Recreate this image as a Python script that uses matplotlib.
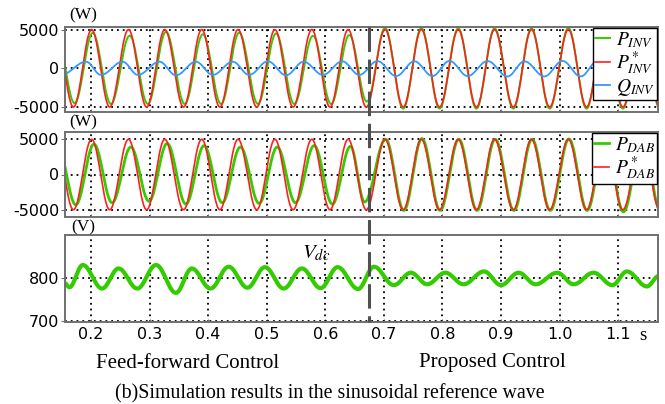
import numpy as np
import matplotlib
matplotlib.use('Agg')
import matplotlib.pyplot as plt
from matplotlib.lines import Line2D
from matplotlib.transforms import blended_transform_factory

plt.rcParams['axes.unicode_minus'] = False
plt.rcParams['mathtext.fontset'] = 'stix'

# extrema (time s, value)
p_ref_t = [0.139, 0.170, 0.201, 0.232, 0.264, 0.295, 0.326, 0.358, 0.389, 0.420,
           0.451, 0.483, 0.514, 0.545, 0.577, 0.608, 0.639, 0.670, 0.702, 0.733,
           0.764, 0.795, 0.827, 0.858, 0.889, 0.921, 0.952, 0.983, 1.015, 1.046,
           1.077, 1.108, 1.140, 1.171]
p_ref_v = [5000, -5000] * 17

p_inv_t = [0.141, 0.172, 0.203, 0.234, 0.266, 0.297, 0.328, 0.360, 0.391, 0.422,
           0.453, 0.485, 0.516, 0.547, 0.579, 0.610, 0.641, 0.671, 0.702, 0.733,
           0.764, 0.795, 0.827, 0.858, 0.889, 0.921, 0.952, 0.983, 1.015, 1.046,
           1.077, 1.108, 1.140, 1.171]
p_inv_v = [4300, -4500, 4570, -4600, 4220, -4600, 4700, -4600, 4400, -4600,
           4600, -4600, 4500, -4600, 4200, -4600, 4300, -4300, 5200, -5200,
           5200, -5200, 5150, -5200, 5150, -5200, 5150, -5200, 5200, -5200,
           5150, -5200, 5150, -5200]

q_inv_t = [0.150, 0.1915, 0.217, 0.254, 0.280, 0.317, 0.345, 0.379, 0.408, 0.442,
           0.470, 0.502, 0.533, 0.563, 0.596, 0.629, 0.658, 0.689, 0.721, 0.752,
           0.783, 0.812, 0.843, 0.877, 0.911, 0.940, 0.974, 1.005, 1.036, 1.065,
           1.098, 1.128, 1.160, 1.175]
q_inv_v = [-800, 850, -850, 850, -850, 850, -900, 850, -850, 850,
           -850, 900, -900, 850, -850, 900, -850, 930, -1000, 900,
           -1000, 950, -1000, 930, -1050, 900, -1050, 950, -1050, 950,
           -1000, 950, -1000, -300]

p_dab_t = [0.143, 0.174, 0.205, 0.236, 0.268, 0.299, 0.330, 0.362, 0.393, 0.424,
           0.455, 0.487, 0.518, 0.549, 0.581, 0.612, 0.643, 0.667, 0.703, 0.734,
           0.765, 0.796, 0.828, 0.859, 0.890, 0.922, 0.953, 0.984, 1.016, 1.047,
           1.078, 1.109, 1.141, 1.172]
p_dab_v = [4000, -4300, 4300, -4000, 3900, -3800, 4400, -4200, 4100, -4000,
           3900, -4100, 3900, -4000, 4100, -4200, 4000, -3900, 5000, -5100,
           5100, -5100, 5000, -5100, 5000, -5100, 5000, -5100, 5050, -5100,
           5000, -5300, 5000, -5100]

vdc_t = [0.155, 0.163, 0.186, 0.219, 0.247, 0.279, 0.311, 0.345, 0.372, 0.404,
         0.435, 0.467, 0.497, 0.529, 0.560, 0.592, 0.621, 0.656, 0.683, 0.717,
         0.746, 0.774, 0.805, 0.836, 0.871, 0.900, 0.930, 0.959, 0.996, 1.024,
         1.058, 1.090, 1.115, 1.149, 1.170]
vdc_v = [788, 778, 830, 775, 822, 775, 830, 765, 822, 775,
         826, 777, 825, 775, 822, 776, 825, 774, 826, 783,
         812, 785, 812, 785, 815, 783, 812, 785, 812, 785,
         812, 783, 815, 780, 805]

x_ticks = [0.2, 0.3, 0.4, 0.5, 0.6, 0.7, 0.8, 0.9, 1.0, 1.1]
t_switch = 0.675

GREEN = '#33cc00'
RED = '#ff1f1f'
BLUE = '#3399ff'


def wave(times, values, n=30):
    # smooth half-cosine pieces between the read extrema
    tt, vv = [], []
    for i in range(len(times) - 1):
        s = np.linspace(0, 1, n, endpoint=False)
        tt.append(times[i] + (times[i + 1] - times[i]) * s)
        vv.append(values[i] + (values[i + 1] - values[i]) * (1 - np.cos(np.pi * s)) / 2)
    tt.append([times[-1]])
    vv.append([values[-1]])
    return np.concatenate(tt), np.concatenate(vv)


fig = plt.figure(figsize=(6.65, 4.04), dpi=100)
L, W = 65 / 665, 593 / 665
ax1 = fig.add_axes([L, 1 - 112 / 404, W, 85 / 404])
ax2 = fig.add_axes([L, 1 - 217 / 404, W, 85 / 404])
ax3 = fig.add_axes([L, 1 - 322 / 404, W, 87 / 404])

ax1.plot(*wave(p_inv_t, p_inv_v), color=GREEN, lw=1.4, label=r'$P_{INV}$')
ax1.plot(*wave(p_ref_t, p_ref_v), color=RED, lw=1.2, label=r'$P^*_{INV}$')
ax1.plot(*wave(q_inv_t, q_inv_v), color=BLUE, lw=1.3, label=r'$Q_{INV}$')
ax1.set_ylim(-5640, 5330)
ax1.set_yticks([-5000, 0, 5000])

ax2.plot(*wave(p_dab_t, p_dab_v), color=GREEN, lw=2.0, label=r'$P_{DAB}$')
ax2.plot(*wave(p_ref_t, p_ref_v), color=RED, lw=1.2, label=r'$P^*_{DAB}$')
ax2.set_ylim(-6030, 6030)
ax2.set_yticks([-5000, 0, 5000])

ax3.plot(*wave(vdc_t, vdc_v), color=GREEN, lw=3.0)
ax3.set_ylim(697, 900)
ax3.set_yticks([700, 800])
ax3.text(0.561, 858, r'$V_{dc}$', fontsize=15, va='center', ha='left')

for ax in (ax1, ax2, ax3):
    ax.set_xlim(0.1556, 1.168)
    ax.set_xticks(x_ticks)
    ax.grid(True, color='black', linestyle=(0, (1, 2.2)), lw=1.3)
    for sp in ax.spines.values():
        sp.set_color('#707070')
        sp.set_linewidth(1.4)
    ax.tick_params(axis='y', direction='out', length=3, colors='#707070',
                   labelcolor='black', labelsize=11.5, pad=1)
    ax.tick_params(axis='x', direction='in', length=2, colors='#707070',
                   labelcolor='black', labelsize=11.5)
ax1.tick_params(axis='x', labelbottom=False)
ax2.tick_params(axis='x', labelbottom=False)

leg_kw = dict(loc='upper right', frameon=True, fancybox=False, framealpha=1,
              edgecolor='black', fontsize=14, handlelength=0.8, handletextpad=0.3,
              labelspacing=0.0, borderpad=0.1, borderaxespad=0.05)
lg1 = ax1.legend(**leg_kw)
lg2 = ax2.legend(**leg_kw)
for lg in (lg1, lg2):
    lg.get_frame().set_linewidth(1.0)

# switching instant, drawn across all panels
trans = blended_transform_factory(ax3.transData, fig.transFigure)
fig.add_artist(Line2D([t_switch, t_switch], [1 - 27 / 404, 1 - 322 / 404],
                      transform=trans, color='#505050', lw=2.2,
                      dashes=(8, 2.5), clip_on=False))

serif = 'Liberation Serif'
for yy, unit in ((15, '(W)'), (122, '(W)'), (227, '(V)')):
    fig.text(83 / 665, 1 - yy / 404, unit, family=serif, fontsize=12.5,
             ha='center', va='center')
fig.text(643 / 665, 1 - 336 / 404, 's', family=serif, fontsize=13.5,
         ha='center', va='center')
fig.text(188 / 665, 1 - 363 / 404, 'Feed-forward Control', family=serif,
         fontsize=15, ha='center', va='center')
fig.text(492 / 665, 1 - 363 / 404, 'Proposed Control', family=serif,
         fontsize=15, ha='center', va='center')
fig.text(330 / 665, 1 - 394 / 404,
         '(b)Simulation results in the sinusoidal reference wave',
         family=serif, fontsize=14.3, ha='center', va='center')

fig.savefig('out.png', dpi=100)
